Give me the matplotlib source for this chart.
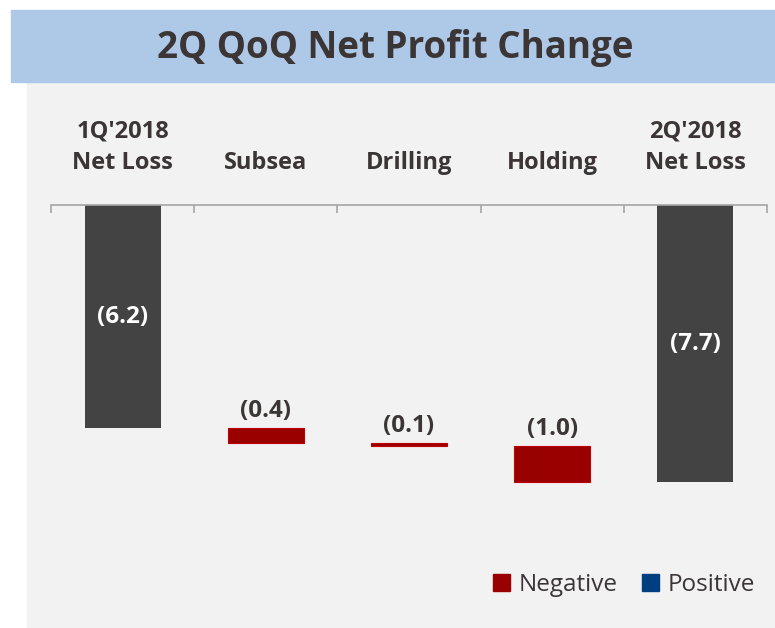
import matplotlib
matplotlib.use('Agg')
import matplotlib.pyplot as plt
from matplotlib.patches import Rectangle, Patch

plt.rcParams['font.family'] = ['Open Sans', 'DejaVu Sans']

categories = ["1Q'2018\nNet Loss", 'Subsea', 'Drilling', 'Holding', "2Q'2018\nNet Loss"]
changes = [-6.2, -0.4, -0.1, -1.0, -7.7]
labels = ['(6.2)', '(0.4)', '(0.1)', '(1.0)', '(7.7)']
is_total = [True, False, False, False, True]

DARK = '#434343'
RED = '#990000'
BLUE = '#003f7f'
TEXT = '#3b3536'

fig = plt.figure(figsize=(7.75, 6.28), dpi=100)
fig.patch.set_facecolor('white')

# background panel and title bar
fig.add_artist(Rectangle((27 / 775, 0), 1 - 27 / 775, 1 - 82 / 628,
                         transform=fig.transFigure, color='#f2f2f2', zorder=0))
fig.add_artist(Rectangle((11 / 775, 1 - 82 / 628), 1 - 11 / 775, 72 / 628,
                         transform=fig.transFigure, color='#aec8e7', zorder=0))
fig.text(395 / 775, 1 - 48 / 628, '2Q QoQ Net Profit Change', ha='center', va='center',
         fontsize=26.5, fontweight='bold', color=TEXT)

ax = fig.add_axes([51 / 775, 108 / 628, 716 / 775, 315 / 628])
ax.set_facecolor('none')

# waterfall: totals hang from zero, changes float from the running total
running = 0.0
for i, (cat, val, lab, tot) in enumerate(zip(categories, changes, labels, is_total)):
    if tot:
        running = val
        ax.bar(i, val, width=0.53, color=DARK)
        ax.text(i, val / 2, lab, ha='center', va='center', color='white',
                fontsize=17.5, fontweight='bold')
    else:
        ax.bar(i, val, bottom=running, width=0.53, color=RED,
               edgecolor='#c00000', linewidth=0.8)
        ax.annotate(lab, (i, running), xytext=(0, 5), textcoords='offset pixels',
                    ha='center', va='bottom', color=TEXT, fontsize=17.5, fontweight='bold')
        running += val
    ax.annotate(cat, (i, 0), xytext=(0, 30), textcoords='offset pixels',
                ha='center', va='bottom', color=TEXT, fontsize=17, fontweight='bold',
                linespacing=1.4, annotation_clip=False)

ax.set_xlim(-0.5, 4.5)
ax.set_ylim(-315 / 36, 0)
for s in ['left', 'right', 'bottom']:
    ax.spines[s].set_visible(False)
ax.spines['top'].set_color('#a6a6a6')
ax.spines['top'].set_linewidth(1.2)
ax.set_yticks([])
ax.xaxis.tick_top()
ax.set_xticks([i - 0.5 for i in range(len(categories) + 1)])
ax.set_xticklabels([])
ax.tick_params(axis='x', direction='in', length=6, width=1.2, color='#a6a6a6')

handles = [Patch(color=RED, label='Negative'), Patch(color=BLUE, label='Positive')]
fig.legend(handles=handles, loc='center', bbox_to_anchor=(624 / 775, 1 - 585 / 628),
           ncol=2, frameon=False, fontsize=17.5, handlelength=0.7, handleheight=0.7,
           handletextpad=0.35, columnspacing=1.0, labelcolor=TEXT)

fig.savefig('out.png', dpi=100)
